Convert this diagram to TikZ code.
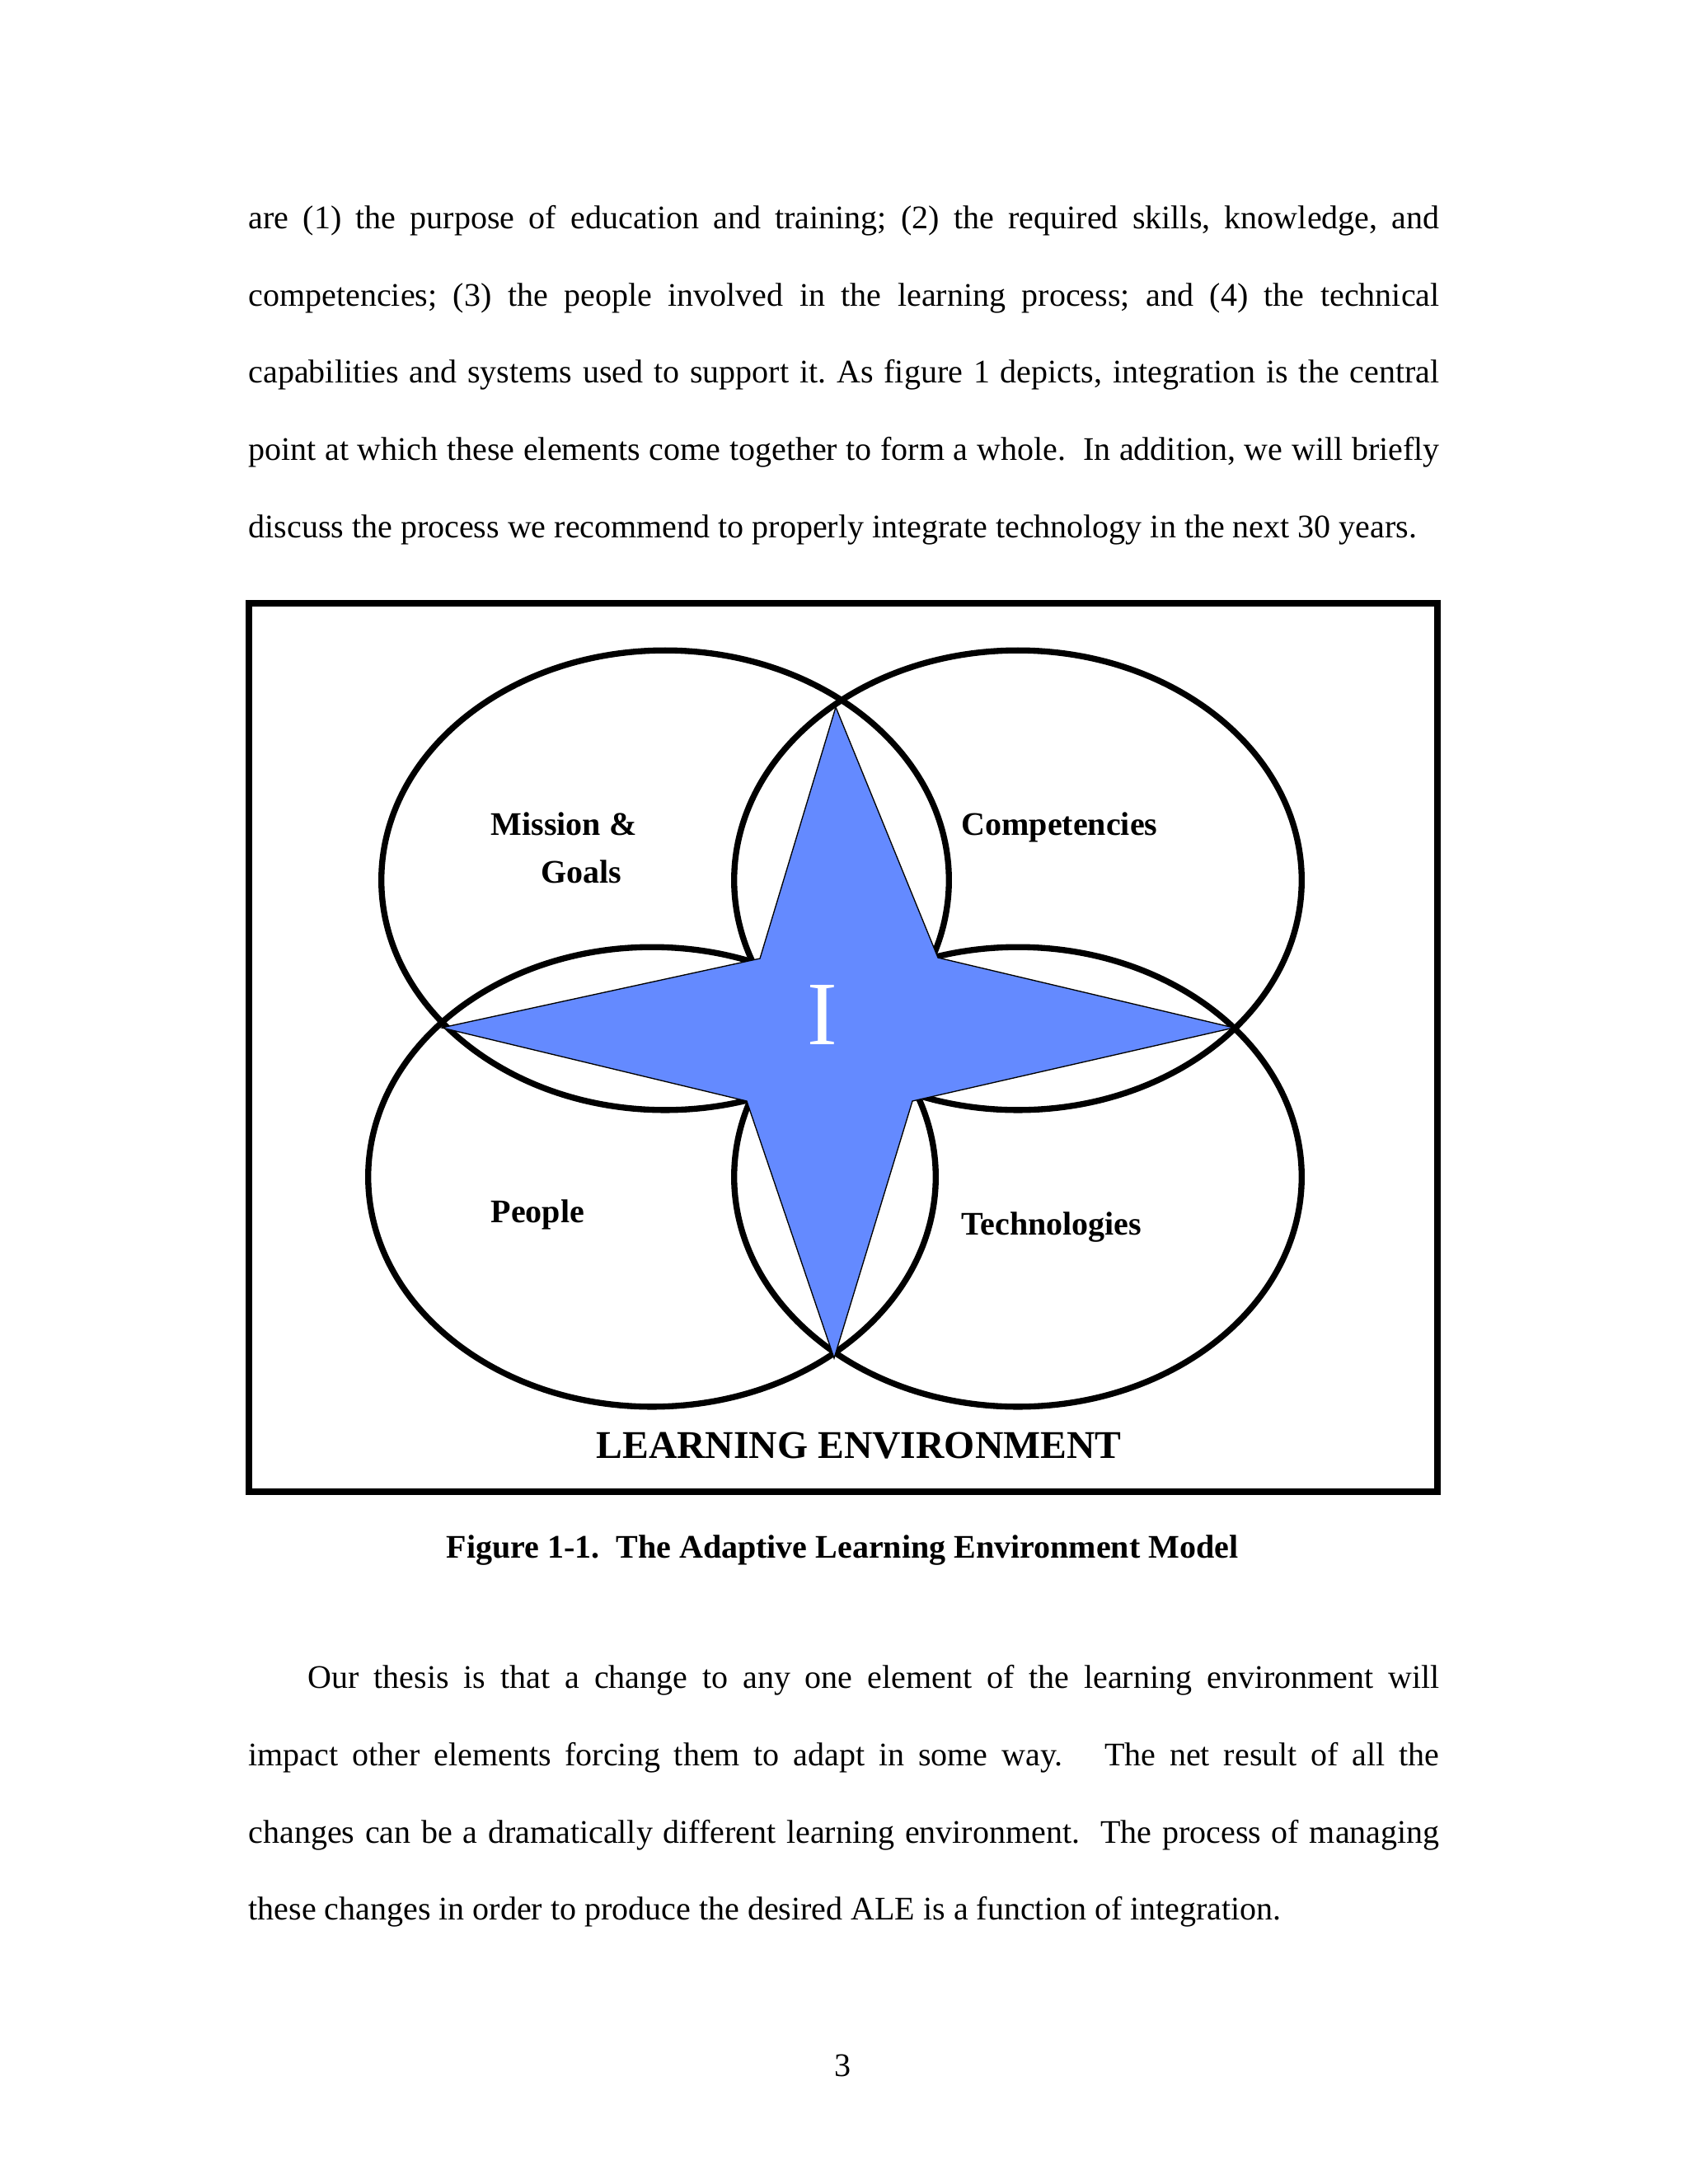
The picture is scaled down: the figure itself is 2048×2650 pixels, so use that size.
\documentclass[tikz,border=0pt]{standalone}
\usepackage{fontspec}
\setmainfont{Liberation Serif}
\usetikzlibrary{shapes.geometric}
\definecolor{starblue}{RGB}{100,138,255}
\frenchspacing
\tikzset{
  ring/.style={draw=black, line width=2.2pt, ellipse, inner sep=0pt, minimum width=7.26cm, minimum height=5.88cm},
  body/.style={anchor=base west, inner sep=0pt, font=\fontsize{12}{14}\selectfont},
  lab/.style={anchor=base west, inner sep=0pt, font=\fontsize{12}{14}\selectfont\bfseries},
  starline/.style={draw=black, line width=0.4pt, fill=starblue}
}
\newcommand{\jline}[2]{\makebox[#1][s]{#2}}
\begin{document}
\begin{tikzpicture}[x=0.010542cm, y=-0.010542cm]
\useasboundingbox[fill=white] (0,0) rectangle (2048,2650);
% upper paragraph
\node[body] (p1) at (301,277) {\jline{15.233cm}{are (1) the purpose of education and training; (2) the required skills, knowledge, and}};
\node[body] (p2) at (301,371) {\jline{15.233cm}{competencies; (3) the people involved in the learning process; and (4) the technical}};
\node[body] (p3) at (301,464) {\jline{15.233cm}{capabilities and systems used to support it. As figure 1 depicts, integration is the central}};
\node[body] (p4) at (301,558) {\jline{15.233cm}{point at which these elements come together to form a whole.\ \ In addition, we will briefly}};
\node[body] (p5) at (301,652) {discuss the process we recommend to properly integrate technology in the next 30 years.};
% frame
\draw[line width=2.5pt] (302,732) rectangle (1744,1810);
% ellipses
\node[ring] (mg) at (807,1068) {};
\node[ring] (co) at (1235,1068) {};
\node[ring] (pe) at (791,1428) {};
\node[ring] (te) at (1235,1428) {};
% star
\coordinate (st) at (1014,858);
\coordinate (sur) at (1138,1162);
\coordinate (sr) at (1497,1247);
\coordinate (slr) at (1107,1336);
\coordinate (sb) at (1012,1648);
\coordinate (sll) at (906,1336);
\coordinate (sl) at (536,1247);
\coordinate (sul) at (922,1163);
\path[starline] (st) -- (sur) -- (sr) -- (slr) -- (sb) -- (sll) -- (sl) -- (sul) -- cycle;
\node[anchor=base, inner sep=0pt, text=white, font=\fontsize{33}{36}\selectfont] (int) at (998,1267) {I};
% labels
\node[lab] (l1) at (595,1013) {Mission \&};
\node[lab] (l2) at (656,1071) {Goals};
\node[lab] (l3) at (1166,1013) {Competencies};
\node[lab] (l4) at (595,1483) {People};
\node[lab] (l5) at (1166,1498) {Technologies};
\node[anchor=base, inner sep=0pt, font=\fontsize{14.3}{16}\selectfont\bfseries] (le) at (1042,1769) {LEARNING ENVIRONMENT};
% caption
\node[anchor=base, inner sep=0pt, font=\fontsize{12}{14}\selectfont\bfseries] (cap) at (1022,1890) {Figure 1-1.\ \ The Adaptive Learning Environment Model};
% lower paragraph
\node[body] (q1) at (373,2048) {\jline{14.474cm}{Our thesis is that a change to any one element of the learning environment will}};
\node[body] (q2) at (301,2142) {\jline{15.233cm}{impact other elements forcing them to adapt in some way.\ \ \ The net result of all the}};
\node[body] (q3) at (301,2236) {\jline{15.233cm}{changes can be a dramatically different learning environment.\ \ The process of managing}};
\node[body] (q4) at (301,2329) {these changes in order to produce the desired ALE is a function of integration.};
% page number
\node[anchor=base, inner sep=0pt, font=\fontsize{12}{14}\selectfont] (pg) at (1022,2519) {3};
\end{tikzpicture}
\end{document}
